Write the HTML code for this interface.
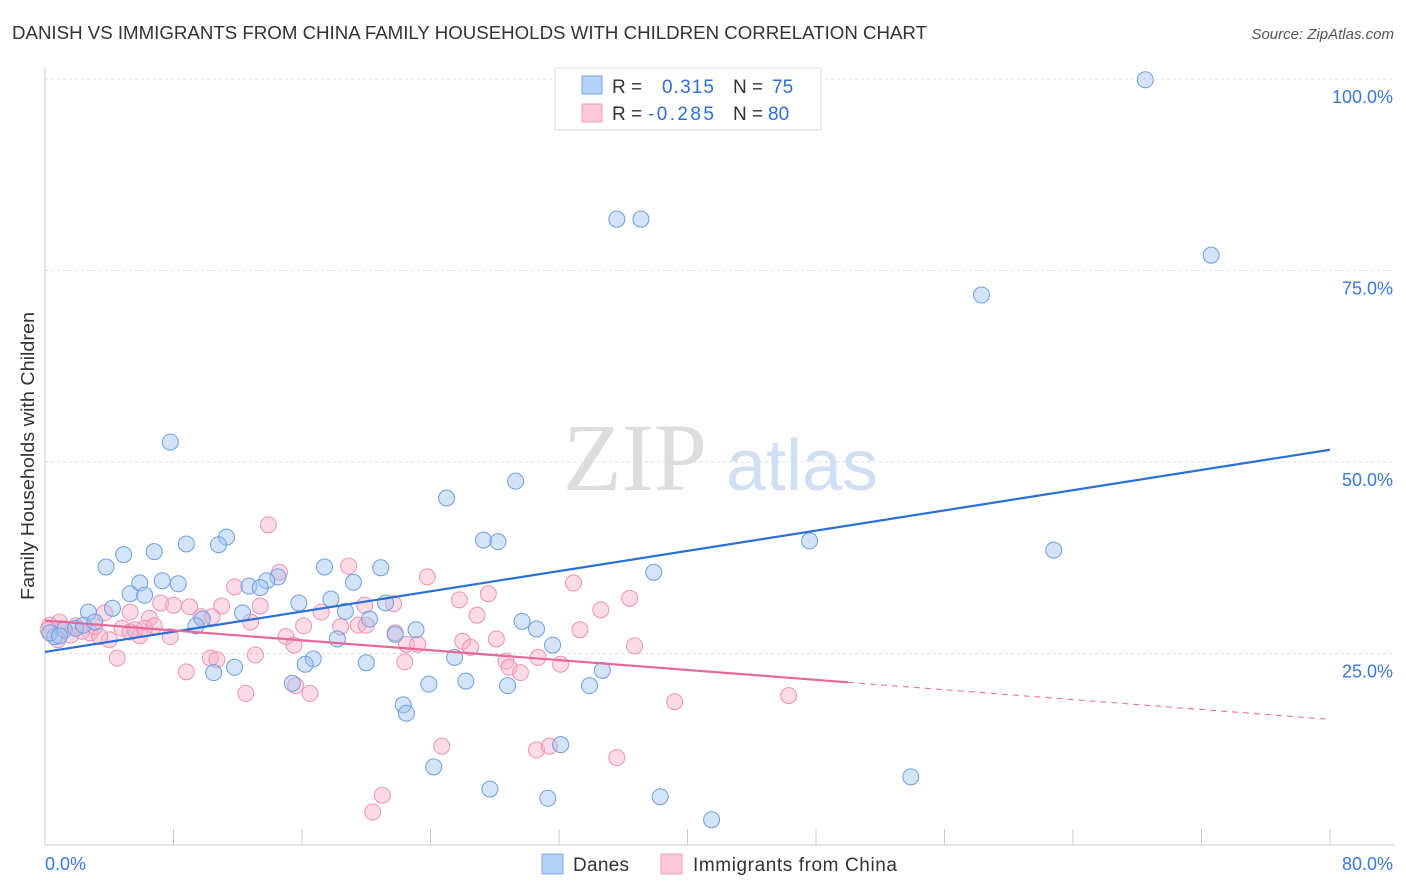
<!DOCTYPE html>
<html><head><meta charset="utf-8">
<style>
html,body{margin:0;padding:0;background:#fff;}
body{width:1406px;height:892px;overflow:hidden;font-family:"Liberation Sans",sans-serif;}
</style></head>
<body>
<svg id="chart" width="1406" height="892" xmlns="http://www.w3.org/2000/svg" style="position:absolute;left:0;top:0">
<text x="12" y="39" font-size="18" fill="#333" textLength="915" lengthAdjust="spacingAndGlyphs">DANISH VS IMMIGRANTS FROM CHINA FAMILY HOUSEHOLDS WITH CHILDREN CORRELATION CHART</text>
<text x="1394" y="39" font-size="15" fill="#555" text-anchor="end" font-style="italic">Source: ZipAtlas.com</text>
<text transform="translate(34,456) rotate(-90)" font-size="18" fill="#333" text-anchor="middle" textLength="288" lengthAdjust="spacingAndGlyphs">Family Households with Children</text>
<g>
<text x="635" y="490" font-size="96" fill="#ddd" font-family="Liberation Serif,serif" text-anchor="middle">ZIP</text>
<text x="802" y="490" font-size="72" fill="#cfe0f5" text-anchor="middle">atlas</text>
</g>
<g id="grid"></g>
<g id="ticks"></g>
<g id="pts"></g>
<g id="lines"></g>
<g>
<rect x="555" y="68" width="266" height="62" fill="#fff" stroke="#ddd"/>
<rect x="582" y="76" width="20" height="18" fill="#b3d0f5" stroke="#7fa9e6"/>
<rect x="582" y="104" width="20" height="18" fill="#fbcad9" stroke="#f09ab6"/>
<text x="612" y="93" font-size="19" fill="#333">R = </text><text x="662" y="93" font-size="19" fill="#2f6fd6" textLength="52">0.315</text>
<text x="733" y="93" font-size="19" fill="#333">N = </text><text x="772" y="93" font-size="19" fill="#2f6fd6">75</text>
<text x="612" y="120" font-size="19" fill="#333">R = </text><text x="648" y="120" font-size="19" fill="#2f6fd6" textLength="66">-0.285</text>
<text x="733" y="120" font-size="19" fill="#333">N = </text><text x="768" y="120" font-size="19" fill="#2f6fd6">80</text>
</g>
<g>
<rect x="542" y="854" width="21" height="20" fill="#b3d0f5" stroke="#7fa9e6"/>
<text x="573" y="871" font-size="19" fill="#333" textLength="56">Danes</text>
<rect x="661" y="854" width="21" height="20" fill="#fbcad9" stroke="#f09ab6"/>
<text x="693" y="871" font-size="19" fill="#333" textLength="204">Immigrants from China</text>
</g>
</svg>
<script>
const yTicks=[25,50,75,100];
const yTickLabels=["25.0%","50.0%","75.0%","100.0%"];
const xTicks=[0,8,16,24,32,40,48,56,64,72,80];
const xEndLabels=["0.0%","80.0%"];
const danesX=[68.5,35.6,37.1,72.6,58.3,7.8,25.0,29.3,27.3,28.2,47.6,62.8,11.3,8.8,10.8,6.8,4.9,3.8,17.4,20.9,37.9,5.9,7.3,8.3,14.5,13.8,19.2,5.3,6.2,12.7,13.4,15.8,17.8,4.2,2.7,18.7,21.2,20.2,12.3,9.8,9.4,29.7,30.6,23.1,21.8,18.2,31.6,34.7,25.5,16.7,16.2,11.8,10.5,20.0,26.2,28.8,23.9,33.9,15.4,22.3,22.5,32.1,24.2,27.7,31.3,38.3,41.5,53.9,0.6,1.2,1.9,2.4,3.1,0.3,0.9];
const danesY=[99.9,81.7,81.7,77.0,71.8,52.6,45.3,47.5,39.8,39.6,39.7,38.5,40.2,39.3,39.2,38.3,37.9,36.3,36.3,36.2,35.6,34.2,34.5,34.1,35.0,34.5,34.3,32.8,32.6,33.8,33.6,31.6,32.1,30.9,30.4,30.5,31.6,29.5,30.3,29.5,28.6,29.2,28.2,28.1,27.5,26.9,26.1,22.8,24.5,24.3,23.6,23.2,22.5,23.8,21.4,20.8,21.0,20.8,21.1,18.3,17.2,13.1,10.2,7.3,6.1,6.3,3.3,8.9,27.2,28.1,28.3,28.7,29.1,27.7,27.3];
const chinaX=[13.9,18.9,23.8,14.6,32.9,27.6,25.8,11.8,36.4,34.6,7.2,8.0,9.0,11.0,13.4,9.7,10.4,17.2,19.9,21.7,26.9,3.7,5.3,6.5,12.8,16.1,18.4,19.5,20.0,21.8,33.3,4.8,5.9,7.8,15.0,15.5,22.5,23.2,26.0,28.1,36.7,26.5,4.0,2.8,1.9,2.3,1.1,0.3,3.4,4.5,10.3,10.7,13.1,22.4,28.7,28.9,30.7,32.1,29.6,8.8,12.5,15.6,16.5,39.2,46.3,24.7,30.6,31.4,35.6,21.0,20.4,5.3,1.6,0.9,0.8,0.2,3.1,5.6,6.2,6.8];
const chinaY=[41.8,36.4,35.0,35.6,34.2,32.8,32.0,33.7,32.2,30.7,31.6,31.3,31.1,31.2,31.2,29.8,29.8,30.4,31.3,31.5,30.0,30.3,30.4,29.6,29.1,28.6,28.5,28.7,28.7,27.7,28.1,28.3,27.3,27.2,27.2,26.1,26.2,26.2,26.6,26.9,26.0,25.8,26.8,27.7,28.6,27.9,28.3,28.7,27.2,24.4,24.4,24.2,24.8,23.9,24.0,23.2,24.5,23.6,22.5,22.6,19.8,20.8,19.8,18.7,19.5,12.9,12.4,12.9,11.4,6.5,4.3,27.8,27.4,29.1,26.8,28.1,28.5,28.1,28.3,28.6];
const blueTrend=[25.2,51.6];
const pinkTrend=[29.3,16.4];
const pinkSolidEnd=50;

const NS="http://www.w3.org/2000/svg";
const X0=45,X1=1330,Y0=845,Y100=79;
function sx(v){return X0+(X1-X0)*v/80;}
function sy(v){return Y0-(Y0-Y100)*v/100;}
function mk(tag,attrs,parent){const e=document.createElementNS(NS,tag);for(const k in attrs)e.setAttribute(k,attrs[k]);document.getElementById(parent).appendChild(e);return e;}

yTicks.forEach((t,i)=>{
  const l=mk('line',{x1:X0,x2:1394,y1:sy(t),y2:sy(t),stroke:'#ddd','stroke-dasharray':'3,3'},'grid');
  
  
  const tx=mk('text',{x:1393,y:sy(t)+24,'font-size':18,fill:'#3a78d8','text-anchor':'end'},'grid');
  tx.textContent=yTickLabels[i];
  
  
});
const ax=mk('line',{x1:X0,x2:X0,y1:68,y2:Y0,stroke:'#ccc'},'ticks');


const bx=mk('line',{x1:X0,x2:1394,y1:Y0,y2:Y0,stroke:'#ccc'},'ticks');


xTicks.forEach(t=>{
  const l=mk('line',{x1:sx(t),x2:sx(t),y1:829,y2:Y0,stroke:'#ccc'},'ticks');
  
  
});
[[0,'start',45],[80,'end',1393]].forEach((a,i)=>{
  const tx=mk('text',{x:a[2],y:870,'font-size':18,fill:'#3a78d8','text-anchor':a[1]},'ticks');
  tx.textContent=xEndLabels[i];
  
  
});
chinaX.forEach((x,i)=>{
  const c=mk('circle',{cx:sx(x),cy:sy(chinaY[i]),r:8,fill:'rgba(247,176,201,0.45)',stroke:'#ef93b3','stroke-width':1},'pts');
  
  
});
danesX.forEach((x,i)=>{
  const c=mk('circle',{cx:sx(x),cy:sy(danesY[i]),r:8,fill:'rgba(160,196,240,0.45)',stroke:'#6f9fe0','stroke-width':1},'pts');
  
  
});
const bl=mk('line',{x1:sx(0),y1:sy(blueTrend[0]),x2:sx(80),y2:sy(blueTrend[1]),stroke:'#2a6fd6','stroke-width':2.2},'lines');


const pm=pinkTrend[0]+(pinkTrend[1]-pinkTrend[0])*pinkSolidEnd/80;
const pl=mk('line',{x1:sx(0),y1:sy(pinkTrend[0]),x2:sx(pinkSolidEnd),y2:sy(pm),stroke:'#e8679a','stroke-width':2.2},'lines');


const pd=mk('line',{x1:sx(pinkSolidEnd),y1:sy(pm),x2:sx(80),y2:sy(pinkTrend[1]),stroke:'#e8679a','stroke-width':1,'stroke-dasharray':'6,5'},'lines');


</script>
</body></html>
